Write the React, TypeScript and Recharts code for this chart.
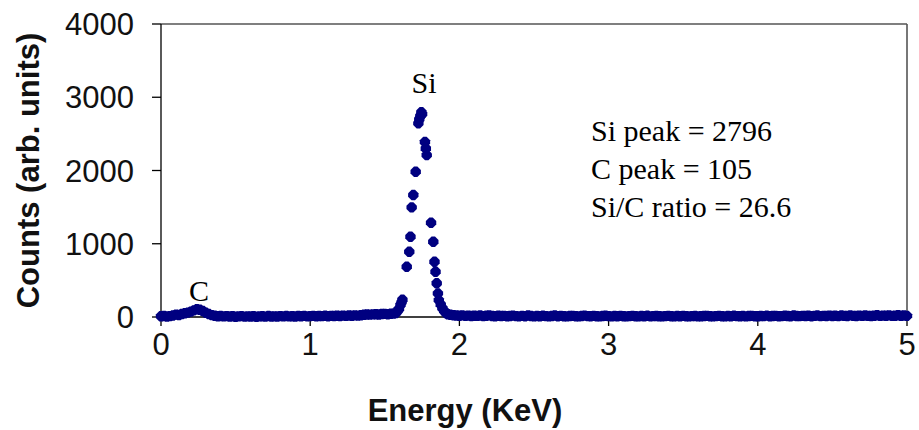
import React from 'react';
import { ScatterChart, Scatter, XAxis, YAxis, ReferenceDot, CartesianGrid } from 'recharts';

// EDS spectrum, counts per channel (0.02 keV steps off the peak)
const STEP = 0.02;

const lowStart = 0;
const lowCounts = [
  10, 14, 6, 12, 20, 32, 28, 40, 52, 60,
  74, 90, 105, 98, 82, 58, 40, 26, 18, 10,
  14, 8, 12, 6, 10, 4, 9, 12, 5, 8,
  6, 11, 4, 8, 10, 5, 13, 7, 9, 6,
  12, 8, 14, 9, 11, 7, 13, 10, 15, 9,
  12, 16, 10, 14, 12, 17, 11, 15, 13, 18,
  14, 19, 16, 20, 17, 22, 19, 24, 30, 34,
  32, 36, 38, 35, 40, 42, 38, 44, 46,
];

// Si K peak, read point by point
const peakEnergy = [
  1.575, 1.585, 1.595, 1.605, 1.612, 1.618, 1.647, 1.664, 1.672, 1.68,
  1.691, 1.707, 1.725, 1.731, 1.738, 1.745, 1.75, 1.769, 1.775, 1.781,
  1.81, 1.825, 1.833, 1.84, 1.848, 1.856, 1.862, 1.875, 1.886, 1.898,
  1.91, 1.922,
];
const peakCounts = [
  55, 80, 110, 165, 200, 235, 686, 891, 1095, 1497,
  1665, 1983, 2644, 2700, 2745, 2796, 2770, 2390, 2300, 2210,
  1286, 1027, 754, 618, 460, 323, 230, 170, 119, 80,
  55, 38,
];

const highStart = 1.94;
const highCounts = [
  30, 24, 20, 18, 22, 16, 19, 14, 18,
  15, 20, 12, 17, 22, 14, 11, 18, 13, 16,
  10, 14, 19, 12, 9, 15, 11, 20, 13, 8,
  14, 10, 17, 12, 9, 13, 21, 11, 15, 10,
  8, 13, 16, 11, 9, 14, 19, 12, 10, 15,
  11, 9, 13, 18, 12, 8, 14, 10, 16, 11,
  9, 12, 15, 10, 8, 13, 11, 17, 9, 12,
  14, 10, 8, 12, 16, 11, 9, 13, 10, 15,
  11, 8, 12, 14, 9, 10, 13, 16, 11, 8,
  12, 15, 10, 9, 13, 11, 18, 12, 10, 14,
  9, 13, 16, 11, 10, 14, 12, 19, 11, 13,
  15, 10, 12, 17, 13, 11, 20, 14, 12, 16,
  13, 18, 11, 15, 21, 12, 16, 14, 19, 13,
  17, 12, 20, 15, 13, 22, 16, 14, 19, 15,
  21, 16, 13, 18, 23, 15, 19, 17, 22, 16,
  18, 24, 17, 20, 15,
];

const xTicks = [0, 1, 2, 3, 4, 5];
const yTicks = [0, 1000, 2000, 3000, 4000];

const notes = ['Si peak = 2796', 'C peak = 105', 'Si/C ratio = 26.6'];

const fromChannels = (start: number, counts: number[]) =>
  counts.map((c, i) => ({ e: Number((start + i * STEP).toFixed(3)), c }));

const data = [
  ...fromChannels(lowStart, lowCounts),
  ...peakEnergy.map((e, i) => ({ e, c: peakCounts[i] })),
  ...fromChannels(highStart, highCounts),
];

const NAVY = '#000080';
const SANS = '"Liberation Sans", Arial, sans-serif';
const SERIF = '"Liberation Serif", "Times New Roman", serif';

// Excel-style filled diamond marker
const Marker = (props: any) => {
  const { cx, cy } = props;
  const r = 5.2;
  const f = 1.7;
  const d = `M${cx - f},${cy - r}L${cx + f},${cy - r}L${cx + r},${cy - f}L${cx + r},${cy + f}` +
    `L${cx + f},${cy + r}L${cx - f},${cy + r}L${cx - r},${cy + f}L${cx - r},${cy - f}Z`;
  return <path d={d} fill={NAVY} />;
};

const App: React.FC = () => {
  return (
    <div style={{ position: 'absolute', left: 0, top: 0, width: 919, height: 430, background: '#fff' }}>
      <ScatterChart width={919} height={430} margin={{ top: 24, right: 12, left: 0, bottom: 0 }}>
        {/* plain frame on top and right of the plot area */}
        <CartesianGrid
          stroke="#555"
          strokeWidth={1.6}
          horizontalCoordinatesGenerator={({ offset }: any) => [offset.top]}
          verticalCoordinatesGenerator={({ offset }: any) => [offset.left + offset.width]}
        />
        <XAxis
          type="number"
          dataKey="e"
          domain={[0, 5]}
          ticks={xTicks}
          height={113}
          tickSize={9}
          tickMargin={7}
          stroke="#000"
          strokeWidth={1.3}
          tick={{ fontSize: 31, fontFamily: SANS, fill: '#111' }}
          label={{
            value: 'Energy (KeV)',
            position: 'center',
            dx: -69,
            dy: 36,
            style: { fontSize: 31, fontFamily: SANS, fontWeight: 'bold', fill: '#111' },
          }}
        />
        <YAxis
          type="number"
          dataKey="c"
          domain={[0, 4000]}
          ticks={yTicks}
          width={161}
          tickSize={9}
          tickMargin={18}
          stroke="#000"
          strokeWidth={1.3}
          tick={{ fontSize: 31, fontFamily: SANS, fill: '#111' }}
          label={{
            value: 'Counts (arb. units)',
            angle: -90,
            position: 'center',
            dx: -53,
            style: { fontSize: 31, fontFamily: SANS, fontWeight: 'bold', fill: '#111' },
          }}
        />
        <Scatter data={data} shape={Marker} isAnimationActive={false} />
        <ReferenceDot
          x={1.763}
          y={3208}
          r={0}
          label={{ value: 'Si', position: 'center', style: { fontSize: 30, fontFamily: SERIF, fill: '#000' } }}
        />
        <ReferenceDot
          x={0.255}
          y={369}
          r={0}
          label={{ value: 'C', position: 'center', style: { fontSize: 30, fontFamily: SERIF, fill: '#000' } }}
        />
      </ScatterChart>
      <div
        style={{
          position: 'absolute',
          left: 591,
          top: 112,
          fontFamily: SERIF,
          fontSize: 30,
          lineHeight: '38px',
          color: '#000',
          whiteSpace: 'nowrap',
        }}
      >
        {notes.map((n) => (
          <div key={n}>{n}</div>
        ))}
      </div>
    </div>
  );
};

export default App;
